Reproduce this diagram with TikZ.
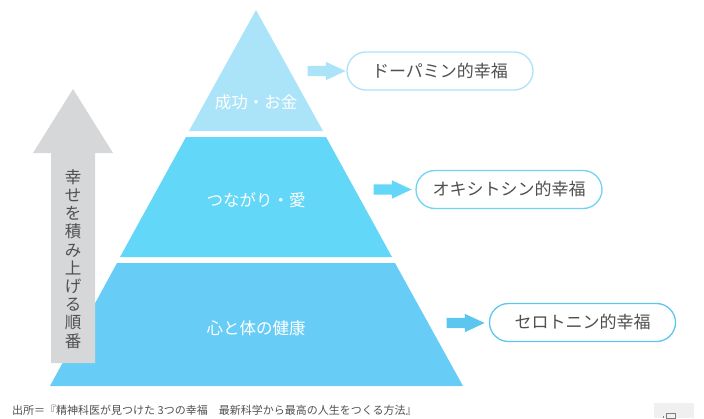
\documentclass[tikz,border=0pt]{standalone}
\usepackage{fontspec}
\newfontfamily\jpfont{Noto Sans CJK JP}
\usetikzlibrary{shapes.arrows, positioning}
\definecolor{skytop}{HTML}{ABE3F8}
\definecolor{skymid}{HTML}{62D7F7}
\definecolor{skylow}{HTML}{67CDF6}
\definecolor{linemid}{HTML}{6FD3F2}
\definecolor{linelow}{HTML}{5DC6EE}
\definecolor{stepgray}{HTML}{D6D7D9}
\definecolor{inkgray}{HTML}{505050}
\begin{document}
\begin{tikzpicture}[x=1pt, y=-1pt,
  tier/.style={font=\jpfont\fontsize{16.5}{18}\selectfont, text=white},
  kind/.style={draw=#1, line width=1.3pt, rounded corners=19pt, minimum width=186pt,
              minimum height=38pt, font=\jpfont\fontsize{17}{20}\selectfont, text=inkgray, fill=white},
  push/.style={single arrow, fill=#1, draw=none, minimum height=38pt,
              single arrow head extend=4pt, single arrow tip angle=50, inner sep=0pt},
]
\useasboundingbox (0,0) rectangle (704,418);

% pyramid
\fill[skytop] (256,10) -- (323,131) -- (189,131) -- cycle;
\fill[skymid] (186,137) -- (326,137) -- (392,257) -- (120,257) -- cycle;
\fill[skylow] (117,263) -- (395,263) -- (463,386) -- (50,386) -- cycle;

\node[tier] (money) at (256,102) {成功・お金};
\node[tier] (love) at (256,200) {つながり・愛};
\node[tier] (health) at (256,328) {心と体の健康};

% order arrow
\fill[stepgray] (73,89) -- (113,153) -- (95,153) -- (95,363) -- (51,363) -- (51,153) -- (33,153) -- cycle;
\node[font=\jpfont\fontsize{16.5}{18.2}\selectfont, text=inkgray, align=center] (order) at (73,259)
  {幸\\せ\\を\\積\\み\\上\\げ\\る\\順\\番};

% kinds of happiness
\node[kind=skytop] (dopa) at (440,71) {ドーパミン的幸福};
\node[kind=linemid] (oxy) at (509,189.5) {オキシトシン的幸福};
\node[kind=linelow] (sero) at (582.5,322.5) {セロトニン的幸福};

\node[push=skytop] (a1) at (321,71) {\rule{0pt}{10pt}};
\node[push=skymid] (a2) at (387,189.5) {\rule{0pt}{10pt}};
\node[push=linelow] (a3) at (460,323) {\rule{0pt}{10pt}};

% source
\node[anchor=west, font=\jpfont\fontsize{11}{13}\selectfont, text=inkgray, inner sep=0pt] (src) at (12,410)
  {出所＝『精神科医が見つけた 3つの幸福　最新科学から最高の人生をつくる方法』};

\fill[gray!12] (654,403) rectangle (694,418);
\draw[gray, line width=0.8pt] (666,413) rectangle (675,418);
\draw[gray, line width=0.8pt] (663,416) -- (663,418);
\end{tikzpicture}
\end{document}
